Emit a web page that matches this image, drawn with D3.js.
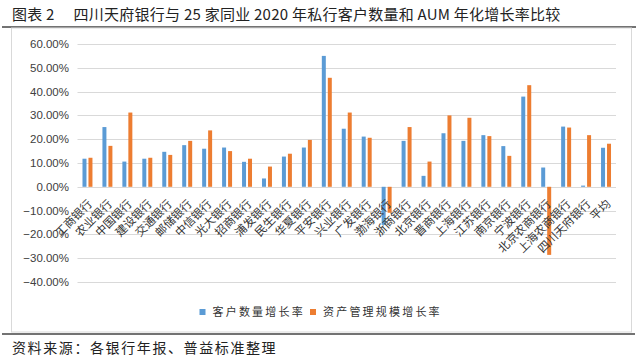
<!DOCTYPE html>
<html><head><meta charset="utf-8">
<script src="https://cdn.jsdelivr.net/npm/d3@7"></script>
<style>
html,body{margin:0;padding:0;background:#fff;}
svg{display:block;}
</style></head>
<body>
<svg id="chart" width="640" height="357"></svg>
<script>
const titleText = "图表 2\u3000 四川天府银行与 25 家同业 2020 年私行客户数量和 AUM 年化增长率比较";
const sourceText = "资料来源：各银行年报、普益标准整理";
const categories = ["工商银行","农业银行","中国银行","建设银行","交通银行","邮储银行","中信银行","光大银行","招商银行","浦发银行","民生银行","华夏银行","平安银行","兴业银行","广发银行","渤海银行","浙商银行","北京银行","晋商银行","上海银行","江苏银行","南京银行","宁波银行","北京农商银行","上海农商银行","四川天府银行","平均"];
const seriesNames = ["客户数量增长率","资产管理规模增长率"];
const clientGrowth = [11.8,25.1,10.6,11.8,14.7,17.5,16.0,16.5,10.5,3.5,12.7,16.5,55.0,24.4,21.1,-16.0,19.3,4.6,22.5,19.3,21.7,17.1,37.9,8.1,25.3,0.5,16.4];
const aumGrowth = [12.2,17.2,31.2,12.2,13.4,19.3,23.7,15.0,11.8,8.5,13.9,19.7,45.8,31.2,20.6,-10.9,25.1,10.6,30.0,29.0,21.3,13.0,42.7,-28.6,24.9,21.7,18.1];
const yTicks = [60,50,40,30,20,10,0,-10,-20,-30,-40];
const colors = ["#5B9BD5","#ED7D31"];

const svg = d3.select("#chart");
const cjk = "'Noto Sans CJK SC', sans-serif";

// title
svg.append("text").attr("x", 12).attr("y", 20)
  .attr("font-family", cjk).attr("font-size", 15).attr("letter-spacing", 0.25).attr("fill", "#222")
  .attr("xml:space","preserve")
  .text(titleText);
svg.append("line").attr("x1", 2).attr("x2", 636).attr("y1", 27).attr("y2", 27)
  .attr("stroke", "#444").attr("stroke-width", 1.5);

// chart box
svg.append("rect").attr("x", 11.5).attr("y", 28).attr("width", 620).attr("height", 304)
  .attr("fill", "none").attr("stroke", "#d9d9d9").attr("stroke-width", 1);

const x = d3.scaleBand().domain(categories).range([77.5, 616]).paddingInner(0.5).paddingOuter(0.25);
const xs = d3.scaleBand().domain(seriesNames).range([0, x.bandwidth()]).paddingInner(1/3);
const y = d3.scaleLinear().domain([-40, 60]).range([282, 44]);

// gridlines
svg.append("g").selectAll("line").data(yTicks).join("line")
  .attr("x1", 77.5).attr("x2", 616)
  .attr("y1", d => Math.round(y(d)) + 0.5).attr("y2", d => Math.round(y(d)) + 0.5)
  .attr("stroke", "#d9d9d9").attr("stroke-width", 1);

// y labels
svg.append("g").selectAll("text").data(yTicks).join("text")
  .attr("x", 69).attr("y", d => y(d)).attr("dy", "0.35em")
  .attr("text-anchor", "end")
  .attr("font-family", "'Liberation Sans', Arial, sans-serif").attr("font-size", 11.5).attr("fill", "#404040")
  .text(d => d3.format(".2f")(d) + "%");

// bars
const seriesData = [clientGrowth, aumGrowth];
seriesData.forEach((vals, si) => {
  svg.append("g").selectAll("rect").data(vals).join("rect")
    .attr("x", (d, i) => x(categories[i]) + xs(seriesNames[si]))
    .attr("width", xs.bandwidth())
    .attr("y", d => y(Math.max(0, d)))
    .attr("height", d => Math.abs(y(d) - y(0)))
    .attr("fill", colors[si]);
});

// category labels
svg.append("g").selectAll("text").data(categories).join("text")
  .attr("transform", d => `translate(${x(d) + x.bandwidth()/2 + 2.5},${y(0) + 15}) rotate(-45)`)
  .attr("text-anchor", "end").attr("dy", "0.35em")
  .attr("font-family", cjk).attr("font-size", 11.5).attr("fill", "#333")
  .text(d => d);

// legend
const legend = svg.append("g");
const legendX = [199.5, 310];
seriesNames.forEach((n, i) => {
  legend.append("rect").attr("x", legendX[i]).attr("y", 309).attr("width", 6).attr("height", 6).attr("fill", colors[i]);
  legend.append("text").attr("x", legendX[i] + 13).attr("y", 312).attr("dy", "0.35em")
    .attr("font-family", cjk).attr("font-size", 11).attr("letter-spacing", 2.2).attr("fill", "#333")
    .text(n);
});

// bottom rule and source
svg.append("line").attr("x1", 2).attr("x2", 635).attr("y1", 334).attr("y2", 334)
  .attr("stroke", "#444").attr("stroke-width", 1.5);
svg.append("text").attr("x", 12).attr("y", 353)
  .attr("font-family", cjk).attr("font-size", 14).attr("letter-spacing", 1.6).attr("fill", "#222")
  .text(sourceText);
</script>
</body></html>
